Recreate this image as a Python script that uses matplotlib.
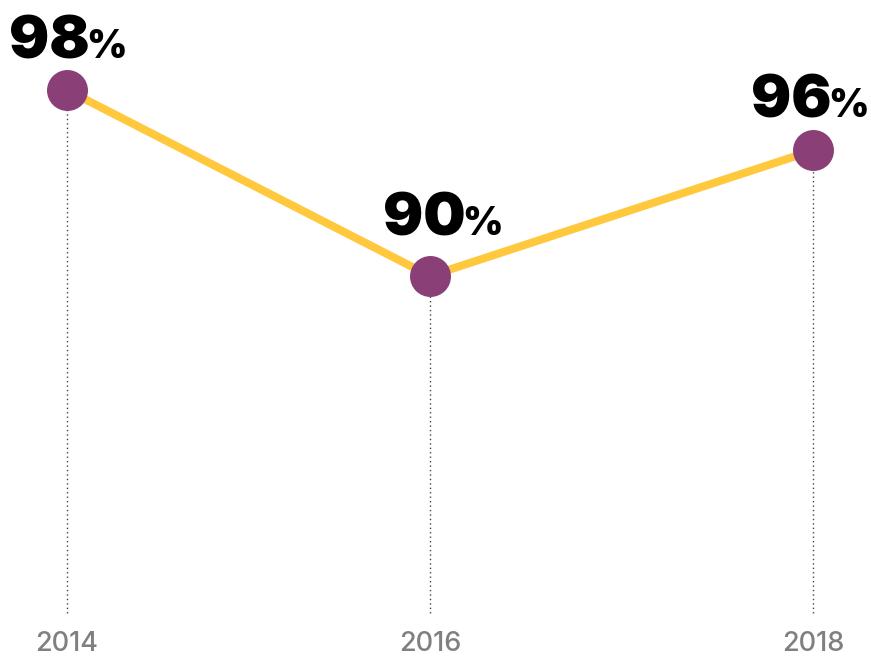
import matplotlib
matplotlib.use("Agg")
import numpy as np
import matplotlib.pyplot as plt
import matplotlib.transforms as mtransforms

years = [2014, 2016, 2018]
values = [98.0, 90.0, 95.4]          # plotted positions
value_labels = ["98", "90", "96"]    # printed labels
year_labels = ["2014", "2016", "2018"]

LINE_COLOR = "#FFC83D"
DOT_COLOR = "#8A4077"
YEAR_COLOR = "#808080"

W, H, DPI = 871, 656, 100
fig = plt.figure(figsize=(W / DPI, H / DPI), dpi=DPI)
ax = fig.add_axes([0, 0, 1, 1])
ax.set_axis_off()

# slightly uneven horizontal spacing of the source chart (pixel anchors)
anchor_years = np.array([2014.0, 2016.0, 2018.0])
anchor_px = np.array([67.0, 430.0, 813.0])


def fwd(x):
    x = np.asarray(x, dtype=float)
    return np.interp(x, anchor_years, anchor_px) + \
        np.where(x < 2014, (x - 2014) * 181.5, 0) + \
        np.where(x > 2018, (x - 2018) * 191.5, 0)


def inv(p):
    p = np.asarray(p, dtype=float)
    return np.interp(p, anchor_px, anchor_years) + \
        np.where(p < 67, (p - 67) / 181.5, 0) + \
        np.where(p > 813, (p - 813) / 191.5, 0)


ax.set_xscale("function", functions=(fwd, inv))
ax.set_xlim(float(inv(0.0)), float(inv(float(W))))
px_per_unit = (276 - 90) / 8
ax.set_ylim(98 - (H - 90) / px_per_unit, 98 + 90 / px_per_unit)
base = 98 - (613 - 90) / px_per_unit

# dotted drop lines
for x, v in zip(years, values):
    ax.plot([x, x], [base, v], linestyle=(0, (1, 2.2)), color="#444444",
            linewidth=1.0, zorder=1)

ax.plot(years, values, color=LINE_COLOR, linewidth=5.8, zorder=2,
        solid_capstyle="butt")
ax.plot(years, values, linestyle="none", marker="o", markersize=29.5,
        markerfacecolor=DOT_COLOR, markeredgewidth=0, zorder=3)

renderer = fig.canvas.get_renderer()
label_dy = [32, 41, 33]
label_dx = [1, 13, -3]
for x, v, lab, dy, dx in zip(years, values, value_labels, label_dy, label_dx):
    t1 = ax.text(x, v, lab, fontsize=43, fontweight="black", family="Inter",
                 color="black", ha="left", va="baseline", zorder=4)
    t2 = ax.text(x, v, "%", fontsize=28, fontweight="black", family="Inter",
                 color="black", ha="left", va="baseline", zorder=4)
    w1 = t1.get_window_extent(renderer).width
    w2 = t2.get_window_extent(renderer).width
    gap = -3
    total = w1 + gap + w2
    start = -total / 2 + dx
    t1.set_transform(mtransforms.offset_copy(ax.transData, fig, x=start,
                                             y=dy, units="dots"))
    t2.set_transform(mtransforms.offset_copy(ax.transData, fig,
                                             x=start + w1 + gap, y=dy,
                                             units="dots"))

for x, lab in zip(years, year_labels):
    ax.text(x, base, lab, fontsize=19.5, family="Inter", fontweight="medium",
            color=YEAR_COLOR, ha="center", va="center",
            transform=mtransforms.offset_copy(ax.transData, fig, x=0, y=-31,
                                              units="dots"))

fig.savefig("out.png", dpi=DPI)
